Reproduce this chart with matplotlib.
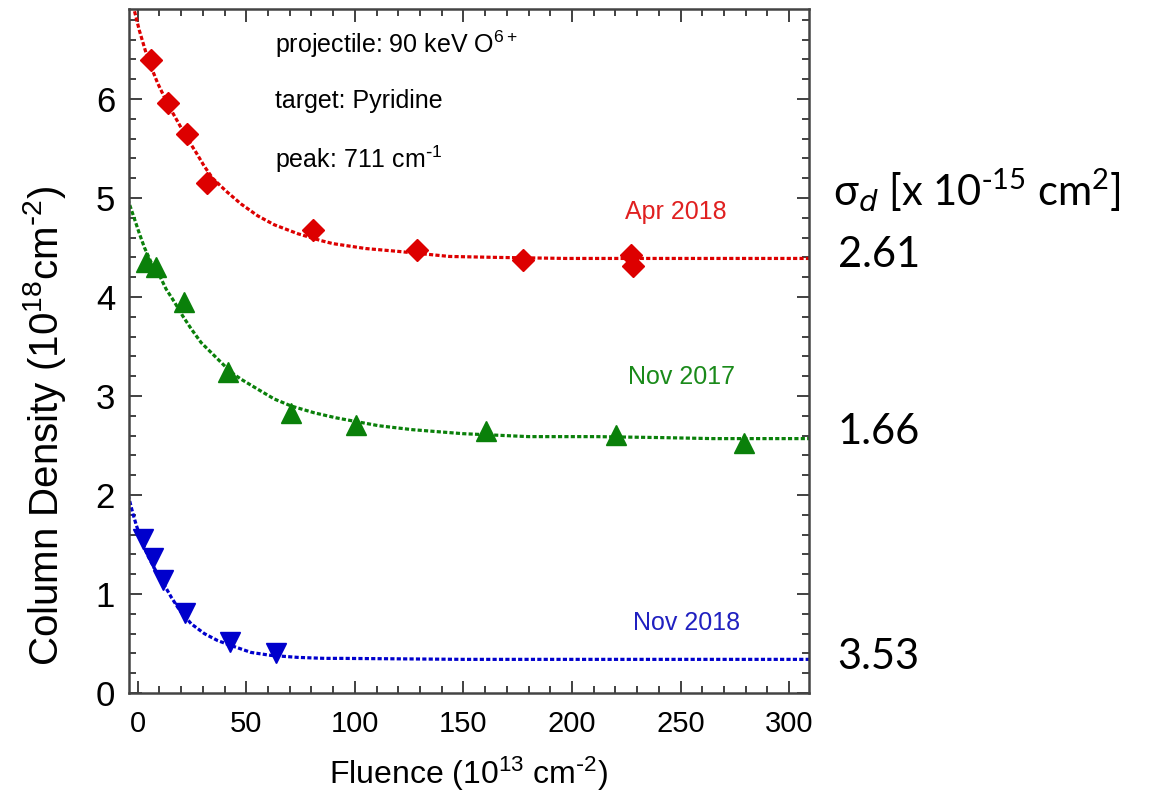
import matplotlib
matplotlib.use("Agg")
import matplotlib.pyplot as plt
from matplotlib.ticker import MultipleLocator

plt.rcParams['font.family'] = ['Liberation Sans', 'DejaVu Sans']
plt.rcParams['mathtext.default'] = 'regular'

# measured points (fluence in 1e13 cm^-2, column density in 1e18 cm^-2)
apr18_f = [6.3, 14.1, 22.9, 32.1, 80.9, 128.4, 177.6, 227.3, 228.2]
apr18_n = [6.39, 5.96, 5.65, 5.15, 4.68, 4.48, 4.37, 4.42, 4.31]

nov17_f = [3.9, 8.5, 21.2, 41.4, 70.6, 100.5, 160.4, 220.3, 279.3]
nov17_n = [4.35, 4.30, 3.95, 3.24, 2.83, 2.71, 2.65, 2.61, 2.53]

nov18_f = [2.3, 6.9, 11.5, 21.8, 42.7, 63.7]
nov18_n = [1.56, 1.36, 1.14, 0.81, 0.52, 0.40]

# fitted curves
apr18_fit_f = [-4.5, -2.3, 0.8, 4.6, 9.2, 13.8, 17.7, 22.3, 26.9, 30.7, 34.5, 40.7,
               47.6, 55.3, 62.9, 73.7, 84.4, 89.8, 105, 120.5, 143.5, 166.5, 197, 250, 310]
apr18_fit_n = [7.1, 6.96, 6.69, 6.41, 6.16, 5.95, 5.80, 5.62, 5.46, 5.32, 5.20, 5.07,
               4.94, 4.82, 4.73, 4.64, 4.57, 4.54, 4.49, 4.46, 4.41, 4.40, 4.39, 4.39, 4.39]

nov17_fit_f = [-4.6, -1.5, 0.8, 3.1, 6.2, 10, 13.1, 16.9, 20.7, 24.6, 29.2, 33.8, 38.4,
               43, 47.6, 55.2, 62.9, 70.6, 81.4, 91.3, 111, 126.6, 149.6, 180, 211, 241.7,
               264.7, 310]
nov17_fit_n = [4.99, 4.79, 4.64, 4.50, 4.35, 4.22, 4.08, 3.95, 3.81, 3.68, 3.54, 3.44, 3.34,
               3.24, 3.17, 3.07, 2.97, 2.90, 2.83, 2.78, 2.70, 2.66, 2.62, 2.59, 2.59, 2.58,
               2.57, 2.57]

nov18_fit_f = [-4.5, -3.8, -2.3, -0.7, 1.6, 4.6, 7.7, 11.5, 15.4, 19.2, 24.6, 30.7, 36.8,
               43, 52.2, 61.4, 73.7, 86, 93.6, 150, 220, 310]
nov18_fit_n = [2.0, 1.95, 1.82, 1.70, 1.55, 1.39, 1.26, 1.12, 0.97, 0.84, 0.70, 0.60, 0.53,
               0.48, 0.41, 0.38, 0.36, 0.35, 0.35, 0.34, 0.34, 0.34]

sigma_vals = ['2.61', '1.66', '3.53']

red = '#dd0000'
green = '#0a800a'
blue = '#0000cc'
dots = (0, (1.3, 0.7))

fig = plt.figure(figsize=(11.57, 8.08), dpi=100)
ax = fig.add_axes([0.1115, 0.1423, 0.5875, 0.8466])

ax.plot(apr18_fit_f, apr18_fit_n, color=red, lw=2.3, ls=dots, zorder=2)
ax.plot(nov17_fit_f, nov17_fit_n, color=green, lw=2.3, ls=dots, zorder=2)
ax.plot(nov18_fit_f, nov18_fit_n, color=blue, lw=2.3, ls=dots, zorder=2)

ax.plot(apr18_f, apr18_n, 'D', color=red, ms=11.5, ls='none', zorder=3)
ax.plot(nov17_f, nov17_n, '^', color=green, ms=15, ls='none', zorder=3)
ax.plot(nov18_f, nov18_n, 'v', color=blue, ms=15, ls='none', zorder=3)

ax.set_xlim(-4, 309)
ax.set_ylim(0, 6.91)
ax.xaxis.set_major_locator(MultipleLocator(50))
ax.xaxis.set_minor_locator(MultipleLocator(10))
ax.yaxis.set_major_locator(MultipleLocator(1))
ax.yaxis.set_minor_locator(MultipleLocator(0.2))
ax.tick_params(which='both', direction='in', top=True, right=True,
               color='#333333', width=1.3)
ax.tick_params(which='major', length=9)
ax.tick_params(which='minor', length=5)
ax.tick_params(axis='x', which='major', labelsize=21, pad=12)
ax.tick_params(axis='y', which='major', labelsize=25, pad=10)
for s in ax.spines.values():
    s.set_linewidth(1.8)
    s.set_color('#444444')

ax.set_xlabel(r'Fluence (10$^{13}$ cm$^{\text{-}2}$)', fontsize=23, labelpad=12)
ax.set_ylabel(r'Column Density (10$^{18}$cm$^{\text{-}2}$)', fontsize=29)
ax.yaxis.set_label_coords(-0.09, 0.39)

ax.text(0.215, 0.948, 'projectile: 90 keV O$^{6+}$', transform=ax.transAxes,
        fontsize=18, va='center', ha='left')
ax.text(0.215, 0.866, 'target: Pyridine', transform=ax.transAxes,
        fontsize=18, va='center', ha='left')
ax.text(0.215, 0.780, r'peak: 711 cm$^{\text{-}1}$', transform=ax.transAxes,
        fontsize=18, va='center', ha='left')

ax.text(247.6, 4.86, 'Apr 2018', color='#e02020', fontsize=18, ha='center', va='center')
ax.text(250.3, 3.19, 'Nov 2017', color='#1a8a1a', fontsize=18, ha='center', va='center')
ax.text(252.6, 0.71, 'Nov 2018', color='#2020c0', fontsize=18, ha='center', va='center')

fig.text(0.720, 0.765, r'σ$_{\mathit{d}}$ [x 10$^{\text{-}15}$ cm$^{2}$]', fontsize=30,
         family=['Lato', 'DejaVu Sans'], va='center', ha='left')
for txt, yp in zip(sigma_vals, [0.684, 0.465, 0.187]):
    fig.text(0.724, yp, txt, fontsize=30, family=['Lato', 'DejaVu Sans'],
             va='center', ha='left')

fig.savefig('out.png', dpi=100)
